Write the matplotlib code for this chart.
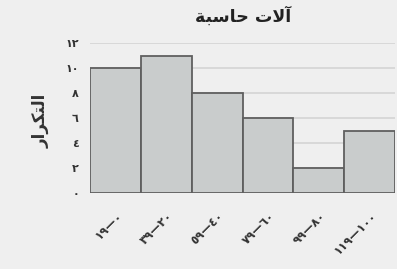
import matplotlib.pyplot as plt

# data (Arabic text stored in visual order with presentation forms)
categories = ["١٩—٠", "٣٩—٢٠", "٥٩—٤٠", "٧٩—٦٠", "٩٩—٨٠", "١١٩—١٠٠"]
counts = [10, 11, 8, 6, 2, 5]
y_ticks = [0, 2, 4, 6, 8, 10, 12]
y_tick_labels = ["٠", "٢", "٤", "٦", "٨", "١٠", "١٢"]
title = "\uFE94\uFE92\uFEB3\uFE8E\uFEA3 \uFE95\uFEFB\uFE81"   # آلات حاسبة
y_label = "\uFEAD\uFE8D\uFEAE\uFEDC\uFE98\uFEDF\uFE8D"         # التكرار

BG = "#efefef"

fig = plt.figure(figsize=(3.97, 2.69), dpi=100, facecolor=BG)
ax = fig.add_axes([90 / 397, 1 - 193 / 269, 305 / 397, 150 / 269])
ax.set_facecolor(BG)

x = list(range(len(counts)))
ax.bar(x, counts, width=1.0, align="edge", color="#c9cccc",
       edgecolor="#5f5f5f", linewidth=1.3, zorder=3)

ax.set_xlim(0, len(counts))
ax.set_ylim(0, 12)
ax.set_yticks(y_ticks)
ax.set_yticklabels(y_tick_labels, fontsize=8, fontweight="bold", color="#333333")
ax.set_xticks([i + 0.5 for i in x])
ax.set_xticklabels(categories, rotation=45, ha="right", rotation_mode="anchor",
                   fontsize=8.5, fontweight="bold", color="#333333")
ax.tick_params(axis="y", length=0, pad=8)
ax.tick_params(axis="x", length=0, pad=12)
ax.grid(axis="y", color="#d4d4d4", linewidth=1.2, zorder=0)
for s in ax.spines.values():
    s.set_visible(False)

fig.text(243 / 397, 1 - 16 / 269, title, ha="center", va="center",
         fontsize=12.5, fontweight="bold", color="#222222")
fig.text(41 / 397, 1 - 121 / 269, y_label, ha="center", va="center",
         rotation=90, fontsize=12, fontweight="bold", color="#333333")

fig.savefig("out.png", dpi=100, facecolor=BG)
